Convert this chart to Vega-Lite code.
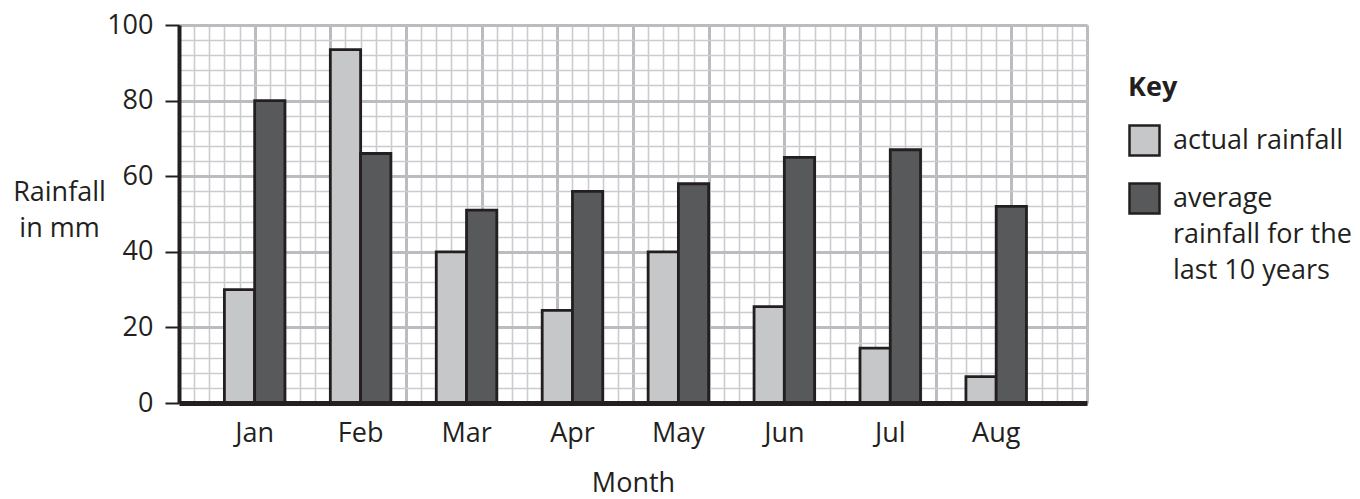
{
  "$schema": "https://vega.github.io/schema/vega-lite/v6.json",
  "autosize": {"type": "none"},
  "padding": {"left": 179, "top": 25, "right": 273, "bottom": 96},
  "width": 908,
  "height": 378,
  "background": "white",
  "config": {
    "font": "Open Sans",
    "view": {"stroke": null},
    "style": {"guide-label": {"lineHeight": 36}}
  },
  "data": {
    "values": [
      {"month": "Jan", "series": "actual rainfall", "rain": 30},
      {"month": "Jan", "series": "average rainfall for the last 10 years", "rain": 80},
      {"month": "Feb", "series": "actual rainfall", "rain": 93.5},
      {"month": "Feb", "series": "average rainfall for the last 10 years", "rain": 66},
      {"month": "Mar", "series": "actual rainfall", "rain": 40},
      {"month": "Mar", "series": "average rainfall for the last 10 years", "rain": 51},
      {"month": "Apr", "series": "actual rainfall", "rain": 24.5},
      {"month": "Apr", "series": "average rainfall for the last 10 years", "rain": 56},
      {"month": "May", "series": "actual rainfall", "rain": 40},
      {"month": "May", "series": "average rainfall for the last 10 years", "rain": 58},
      {"month": "Jun", "series": "actual rainfall", "rain": 25.5},
      {"month": "Jun", "series": "average rainfall for the last 10 years", "rain": 65},
      {"month": "Jul", "series": "actual rainfall", "rain": 14.5},
      {"month": "Jul", "series": "average rainfall for the last 10 years", "rain": 67},
      {"month": "Aug", "series": "actual rainfall", "rain": 7},
      {"month": "Aug", "series": "average rainfall for the last 10 years", "rain": 52}
    ]
  },
  "layer": [
    {
      "mark": {"type": "point", "opacity": 0},
      "encoding": {
        "x": {
          "datum": 0, "type": "quantitative",
          "scale": {"domain": [0, 60], "nice": false, "zero": false},
          "axis": {
            "orient": "bottom",
            "values": [0,1,2,3,4,5,6,7,8,9,10,11,12,13,14,15,16,17,18,19,20,21,22,23,24,25,26,27,28,29,30,31,32,33,34,35,36,37,38,39,40,41,42,43,44,45,46,47,48,49,50,51,52,53,54,55,56,57,58,59,60],
            "grid": true, "gridColor": "#cbcccf", "gridWidth": 1.6, "gridOpacity": 1,
            "labels": false, "ticks": false, "domain": false, "title": null
          }
        },
        "y": {
          "datum": 0, "type": "quantitative",
          "scale": {"domain": [0, 100], "nice": false},
          "axis": {
            "orient": "left",
            "values": [0,4,8,12,16,20,24,28,32,36,40,44,48,52,56,60,64,68,72,76,80,84,88,92,96,100],
            "grid": true, "gridColor": "#cbcccf", "gridWidth": 1.6, "gridOpacity": 1,
            "labels": false, "ticks": false, "domain": false, "title": null
          }
        }
      }
    },
    {
      "mark": {"type": "point", "opacity": 0},
      "encoding": {
        "x": {
          "datum": 0, "type": "quantitative",
          "scale": {"domain": [0, 60], "nice": false, "zero": false},
          "axis": {
            "orient": "bottom",
            "values": [0,5,10,15,20,25,30,35,40,45,50,55,60],
            "grid": true, "gridColor": "#bbbcbf", "gridWidth": 3, "gridOpacity": 1,
            "labels": false, "ticks": false, "domain": false, "title": null
          }
        },
        "y": {
          "datum": 0, "type": "quantitative",
          "scale": {"domain": [0, 100], "nice": false},
          "axis": {
            "orient": "left",
            "values": [0,20,40,60,80,100],
            "grid": true, "gridColor": "#bbbcbf", "gridWidth": 3, "gridOpacity": 1,
            "labels": false, "ticks": false, "domain": false, "title": null
          }
        }
      }
    },
    {
      "mark": {"type": "bar", "stroke": "#231f20", "strokeWidth": 2.8},
      "encoding": {
        "x": {
          "field": "month", "type": "nominal",
          "sort": ["Jan", "Feb", "Mar", "Apr", "May", "Jun", "Jul", "Aug"],
          "scale": {"paddingInner": 0.428571, "paddingOuter": 0.5, "align": 0.428571},
          "axis": {
            "orient": "bottom", "zindex": 1,
            "labelAngle": 0, "labelFontSize": 27, "labelColor": "#231f20",
            "labelPadding": 17, "ticks": false, "tickSize": 0,
            "domain": true, "domainColor": "#231f20", "domainWidth": 5,
            "grid": false,
            "title": "Month", "titleFontSize": 27, "titleFontWeight": "normal",
            "titleColor": "#231f20", "titlePadding": 24
          }
        },
        "xOffset": {
          "field": "series", "type": "nominal",
          "scale": {"paddingInner": 0, "paddingOuter": 0}
        },
        "y": {
          "field": "rain", "type": "quantitative",
          "scale": {"domain": [0, 100], "nice": false},
          "axis": {
            "orient": "left", "zindex": 1,
            "values": [0,20,40,60,80,100],
            "grid": false,
            "domain": true, "domainColor": "#231f20", "domainWidth": 4,
            "ticks": true, "tickSize": 14, "tickWidth": 2, "tickColor": "#231f20",
            "labelFontSize": 27, "labelColor": "#231f20", "labelPadding": 12,
            "title": ["Rainfall", "in mm"], "titleFontSize": 27, "titleFontWeight": "normal",
            "titleColor": "#231f20", "titleAngle": 0, "titleAlign": "center",
            "titleBaseline": "alphabetic", "titleX": -120, "titleY": 175, "titleLineHeight": 36
          }
        },
        "color": {
          "field": "series", "type": "nominal",
          "scale": {
            "domain": ["actual rainfall", "average rainfall for the last 10 years"],
            "range": ["#c6c7c9", "#58595b"]
          },
          "legend": {
            "orient": "none", "legendX": 949, "legendY": 50,
            "title": "Key", "titleFontSize": 27, "titleFontWeight": "bold", "titleColor": "#231f20",
            "titlePadding": 22,
            "symbolType": "square", "symbolSize": 900, "symbolStrokeColor": "#231f20",
            "symbolStrokeWidth": 2.5, "symbolOpacity": 1,
            "labelFontSize": 27, "labelColor": "#231f20", "labelOffset": 12, "labelLimit": 400,
            "labelExpr": "datum.value == 'actual rainfall' ? datum.label : ['average', 'rainfall for the', 'last 10 years']",
            "rowPadding": 17
          }
        }
      }
    }
  ],
  "resolve": {
    "scale": {"x": "independent", "y": "independent"},
    "axis": {"x": "independent", "y": "independent"}
  }
}
